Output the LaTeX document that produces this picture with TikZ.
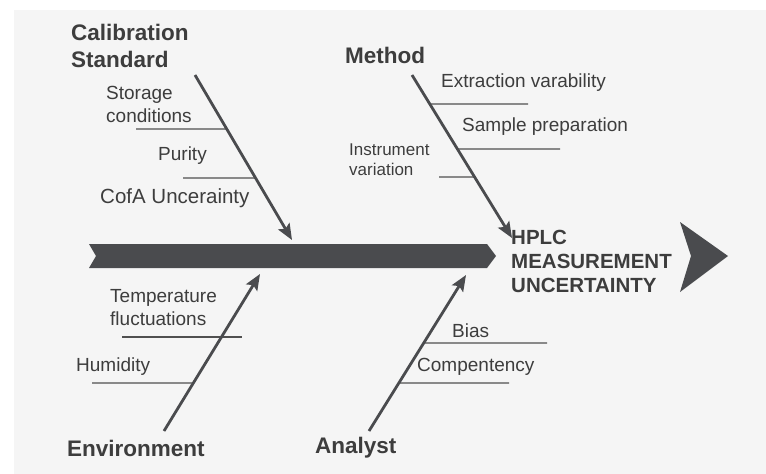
\documentclass[tikz,border=0pt]{standalone}
\usepackage{fontspec}
\setmainfont{Liberation Sans}
\usetikzlibrary{arrows.meta,calc}
\definecolor{bggray}{HTML}{F5F5F5}
\definecolor{inkgray}{HTML}{3D3D3D}
\definecolor{bargray}{HTML}{4A4B4E}
\definecolor{ribgray}{HTML}{505050}
\tikzset{bone/.style={draw=bargray,line width=2.8pt,-{Stealth[length=16pt,width=13pt,inset=3pt]}},
  rib/.style={draw=ribgray,line width=1.4pt},
  cause/.style={inner sep=0pt,anchor=west,align=left,text=inkgray,font=\fontsize{22.5}{27}\selectfont\bfseries},
  factor/.style={inner sep=0pt,anchor=west,align=left,text=inkgray,font=\fontsize{19}{23}\selectfont}}

\begin{document}
\begin{tikzpicture}[x=1pt,y=-1pt]
          \useasboundingbox (0,0) rectangle (766,474);
          \fill[white] (0,0) rectangle (766,474);
          \fill[bggray] (14,10) rectangle (766,474);

          \fill[bargray] (89,244) -- (487,244) -- (496,256) -- (487,268) -- (89,268) -- (96,256) -- cycle;
          \fill[bargray] (680,222) -- (728,256) -- (680,292) -- (691,256) -- cycle;

          \coordinate (calS) at (195,75);
          \coordinate (calE) at (292,240);
          \coordinate (metS) at (412,75);
          \coordinate (metE) at (512,238);
          \coordinate (envS) at (164,431);
          \coordinate (envE) at (260,274);
          \coordinate (anaS) at (369,431);
          \coordinate (anaE) at (466,275);

          \path (calS) -- (calE) coordinate[pos=0.327] (storR) coordinate[pos=0.624] (purR);
          \path (metS) -- (metE) coordinate[pos=0.178] (extrR) coordinate[pos=0.454] (sampR) coordinate[pos=0.626] (instR);
          \path (envS) -- (envE) coordinate[pos=0.306] (humR);
          \path (anaS) -- (anaE) coordinate[pos=0.564] (biasR) coordinate[pos=0.308] (compR);

          \coordinate (storL) at (136,129);
          \coordinate (purL) at (183,178);
          \coordinate (extrT) at (528,104);
          \coordinate (sampT) at (560,149);
          \coordinate (instL) at (439,177);
          \coordinate (tempL) at (122,337);
          \coordinate (tempT) at (242,337);
          \coordinate (humL) at (92,383);
          \coordinate (biasT) at (547,343);
          \coordinate (compT) at (509,383);

          \draw[rib] (storL) -- (storR);
          \draw[rib] (purL) -- (purR);
          \draw[rib] (extrR) -- (extrT);
          \draw[rib] (sampR) -- (sampT);
          \draw[rib] (instL) -- (instR);
          \draw[rib] (tempL) -- (tempT);
          \draw[rib] (humL) -- (humR);
          \draw[rib] (biasR) -- (biasT);
          \draw[rib] (compR) -- (compT);

          \draw[bone] (calS) -- (calE);
          \draw[bone] (metS) -- (metE);
          \draw[bone] (envS) -- (envE);
          \draw[bone] (anaS) -- (anaE);

          \node (calLbl) at (71,46) [cause] {Calibration\\Standard};
          \node (metLbl) at (345,55) [cause] {Method};
          \node (envLbl) at (67,448) [cause] {Environment};
          \node (anaLbl) at (315,448) [cause] {Analyst};
          \node (hplcLbl) at (511,261) [cause,font=\fontsize{20.5}{24}\selectfont\bfseries] {HPLC\\MEASUREMENT\\UNCERTAINTY};

          \node (storLbl) at (106,104) [factor] {Storage\\conditions};
          \node (purLbl) at (158,156) [factor] {Purity};
          \node (cofaLbl) at (100,198) [factor,font=\fontsize{20.5}{24}\selectfont] {CofA Uncerainty};
          \node (extrLbl) at (441,83) [factor] {Extraction varability};
          \node (sampLbl) at (462,127) [factor] {Sample preparation};
          \node (instLbl) at (349,160) [factor,font=\fontsize{17}{20}\selectfont] {Instrument\\variation};
          \node (tempLbl) at (110,308) [factor] {Temperature\\fluctuations};
          \node (humLbl) at (76,367) [factor] {Humidity};
          \node (biasLbl) at (452,331) [factor] {Bias};
          \node (compLbl) at (417,367) [factor] {Compentency};
        \end{tikzpicture}
\end{document}
